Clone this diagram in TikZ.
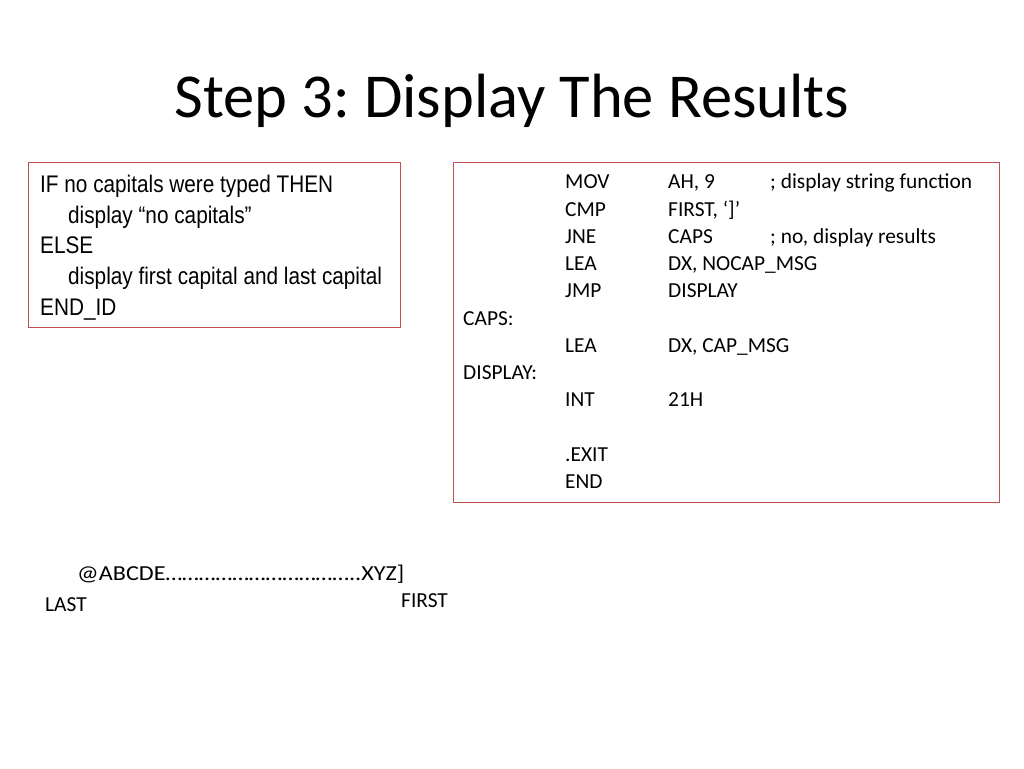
\documentclass[tikz,border=0pt]{standalone}
\usepackage{fontspec}
\setmainfont{Carlito}
\newfontfamily\narrowf[FakeStretch=0.865]{Liberation Sans}
\definecolor{boxred}{RGB}{192,80,77}
\frenchspacing
\begin{document}
\begin{tikzpicture}[x=1pt,y=-1pt,
  txt/.style={anchor=base west,inner sep=0pt,font=\fontsize{21.4}{24}\selectfont},
  ntxt/.style={anchor=base west,inner sep=0pt,font=\narrowf\fontsize{24}{26}\selectfont},
  frame/.style={draw=boxred,line width=1pt}]
\useasboundingbox (0,0) rectangle (1024,768);
\node[inner sep=0pt,anchor=base,font=\fontsize{62.5}{66}\selectfont] (title) at (512,117) {Step 3: Display The Results};
\draw[frame] (28,162) rectangle (400,327);
\node[ntxt] (l1) at (40,192) {IF no capitals were typed THEN};
\node[ntxt] (l2) at (68,223) {display “no capitals”};
\node[ntxt] (l3) at (40,253) {ELSE};
\node[ntxt] (l4) at (68,284) {display first capital and last capital};
\node[ntxt] (l5) at (40,315) {END\_ID};
\draw[frame] (453,162) rectangle (999,502);
\foreach \y/\a/\b/\c [count=\i] in {188/MOV/{AH, 9}/{; display string function},
  216/CMP/{FIRST, ‘]’}/{},243/JNE/CAPS/{; no, display results},
  270/LEA/{DX, NOCAP\_MSG}/{},297/JMP/DISPLAY/{},352/LEA/{DX, CAP\_MSG}/{},
  406/INT/21H/{},461/.EXIT/{}/{},488/END/{}/{}}{
  \node[txt] (a\i) at (565,\y) {\a};
  \node[txt] (b\i) at (668,\y) {\b};
  \node[txt] (c\i) at (770,\y) {\c};
}
\node[txt] (caps) at (463,325) {CAPS:};
\node[txt] (disp) at (463,379) {DISPLAY:};
\node[txt,xscale=1.13] (alpha) at (77,580) {@ABCDE……………………………..XYZ]};
\node[txt] (last) at (45,611) {LAST};
\node[txt] (first) at (401,607) {FIRST};
\end{tikzpicture}
\end{document}
